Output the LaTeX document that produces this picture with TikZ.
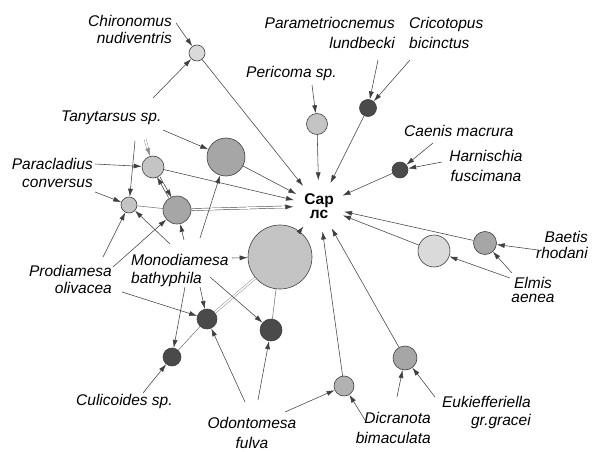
\documentclass[tikz,border=0pt]{standalone}
\usepackage{fontspec}
\setmainfont{Liberation Sans}
\usetikzlibrary{arrows.meta}

\definecolor{cLite}{HTML}{DADADA}
\definecolor{cPale}{HTML}{C4C4C4}
\definecolor{cSoft}{HTML}{B2B2B2}
\definecolor{cGrey}{HTML}{A6A6A6}
\definecolor{cDark}{HTML}{4A4A4A}

\begin{document}
\begin{tikzpicture}[x=1pt, y=-1pt, font=\fontsize{15.5}{17}\selectfont]
\useasboundingbox (0,0) rectangle (592,452);

% styles
\tikzset{blob/.style={circle, draw=black!75, line width=0.6pt, inner sep=0pt},
         edge/.style={draw=black!75, line width=0.55pt, -{Latex[length=8pt,width=5pt]}},
         link/.style={draw=black!50, line width=0.6pt},
         dbl/.style={double=white, double distance=1.6pt, line width=0.45pt},
         taxon/.style={font=\fontsize{15.5}{17}\selectfont\itshape, inner sep=0pt},
         hub/.style={circle, minimum size=51pt, inner sep=0pt, align=center,
                     font=\fontsize{15.5}{17}\selectfont\bfseries}}
% \blob{name}{x,y}{diameter}{fill}
\newcommand{\blob}[4]{\node[blob, minimum size=#3, fill=#4] (#1) at (#2) {};}
% \feed[opts]{tail}{x,y}{target}
\newcommand{\feed}[4][]{\coordinate (#2) at (#3); \draw[edge, #1] (#2) -- (#4);}

% ---- hub
\node[hub] (cap) at (319,206) {Сар\\[-2.5pt]лс};

% ---- groups (circles)
\blob{chi}{197,53}{16pt}{cLite}
\blob{peri}{317,124}{21pt}{cPale}
\blob{crico}{368,108}{17pt}{cDark}
\blob{caen}{400,170}{16pt}{cDark}
\blob{tany}{226,157}{38pt}{cGrey}
\blob{para}{153,167}{22pt}{cPale}
\blob{conv}{129,205}{16pt}{cPale}
\blob{prod}{177,210}{28pt}{cGrey}
\blob{mono}{280,257}{64pt}{cPale}
\blob{odoA}{207,319}{20pt}{cDark}
\blob{odoB}{271,330}{22pt}{cDark}
\blob{culi}{172,357}{18pt}{cDark}
\blob{dicr}{344,386}{20pt}{cSoft}
\blob{euki}{405,358}{24pt}{cGrey}
\blob{elmi}{434,251}{32pt}{cLite}
\blob{baet}{485,243}{23pt}{cGrey}

% ---- taxa
\node[taxon, anchor=east, align=right] (chiroL) at (172,29) {Chironomus\\nudiventris};
\node[taxon, anchor=east, align=right] (paramL) at (395,33) {Parametriocnemus\\[3pt]lundbecki};
\node[taxon, anchor=west, align=left] (cricoL) at (409,33) {Cricotopus\\[3pt]bicinctus};
\node[taxon, anchor=west] (periL) at (246,73) {Pericoma sp.};
\node[taxon, anchor=west] (tanyL) at (61,118) {Tanytarsus sp.};
\node[taxon, anchor=west] (caenL) at (404,131) {Caenis macrura};
\node[taxon, align=center] (harnL) at (486,166) {Harnischia\\[3pt]fuscimana};
\node[taxon, anchor=east, align=right] (paclL) at (93,173) {Paracladius\\[1pt]conversus};
\node[taxon, anchor=east, align=right] (prodL) at (112,279) {Prodiamesa\\olivacea};
\node[taxon, anchor=west, align=left] (monoL) at (131,270) {Monodiamesa\\[1pt]bathyphila};
\node[taxon, anchor=west] (culiL) at (76,401) {Culicoides sp.};
\node[taxon, align=center] (odonL) at (252,433) {Odontomesa\\[3pt]fulva};
\node[taxon, anchor=east, align=right] (dicrL) at (431,428) {Dicranota\\[3pt]bimaculata};
\node[taxon, anchor=east, align=right] (eukiL) at (531,412) {Eukiefferiella\\[1pt]gr.gracei};
\node[taxon, anchor=east, align=right] (baetL) at (588,245) {Baetis\\[-1pt]rhodani};
\node[taxon, align=center] (elmiL) at (533,290) {Elmis\\[-3pt]aenea};

% ---- groups into the hub
\foreach \n in {chi,peri,crico,caen,tany,para,dicr,euki,elmi,baet} {\draw[edge] (\n) -- (cap);}
\draw[edge, dbl] (prod) -- (cap);
\draw[edge, dbl] (mono) -- (cap);

% ---- links between groups
\draw[edge, transform canvas={xshift=1.5pt}] (para) -- (prod);
\draw[edge, transform canvas={xshift=-1.5pt}] (prod) -- (para);
\draw[link] (conv) -- (prod);
\draw[link] (culi) -- (odoA);
\draw[link, dbl] (odoA) -- (mono);
\draw[link] (odoB) -- (mono);

% ---- taxa into groups
\feed{chiroA}{176,23}{chi}
\feed{tanyA}{153,98}{chi}
\feed{tanyB}{163,130}{tany}
\feed{tanyC}{135,141}{conv}
\feed[dbl, draw=black!45]{tanyD}{145,139}{para}
\feed{paramA}{378,60}{crico}
\feed{cricoA}{410,60}{crico}
\feed{periA}{312,85}{peri}
\feed{caenA}{433,143}{caen}
\feed{harnA}{442,162}{caen}
\feed{paclA}{95,164}{para}
\feed{paclB}{95,192}{conv}
\feed{prodA}{103,257}{conv}
\feed{prodB}{113,267}{prod}
\feed{prodC}{122,292}{odoA}
\feed{monoA}{232,258}{mono}
\feed{monoB}{200,238}{tany}
\feed{monoC}{170,244}{conv}
\feed{monoD}{184,240}{prod}
\feed{monoE}{200,287}{odoA}
\feed{monoF}{185,287}{culi}
\feed{monoG}{210,277}{odoB}
\feed{culiA}{143,393}{culi}
\feed{odonA}{245,402}{odoA}
\feed{odonB}{258,400}{odoB}
\feed{odonC}{285,412}{dicr}
\feed{dicrA}{365,420}{dicr}
\feed{eukiA}{397,397}{euki}
\feed{eukiB}{435,397}{euki}
\feed{elmiA}{510,278}{elmi}
\feed{elmiB}{512,273}{baet}
\feed{baetA}{538,250}{baet}
\end{tikzpicture}
\end{document}
